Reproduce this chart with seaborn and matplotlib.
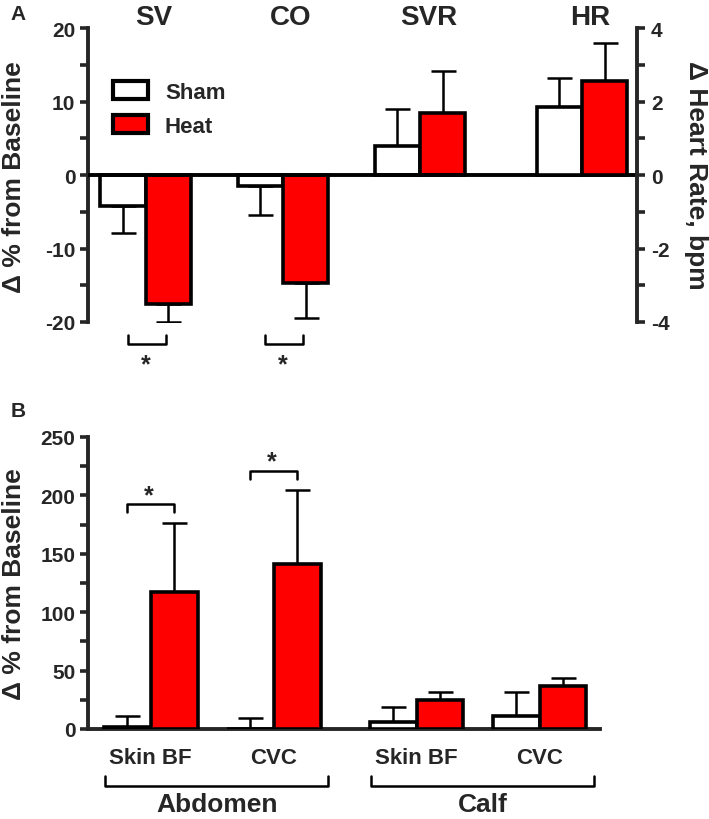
import numpy as np
import pandas as pd
import seaborn as sns
import matplotlib.pyplot as plt
from matplotlib.patches import Patch

# Panel A: % change from baseline (SV, CO, SVR) and heart rate (bpm, right axis)
a_titles = ['SV', 'CO', 'SVR', 'HR']
a_sham = [-4.2, -1.5, 3.9]
a_sham_sd = [3.7, 4.0, 5.1]
a_heat = [-17.5, -14.7, 8.4]
a_heat_sd = [2.5, 4.8, 5.8]
hr_sham = [1.85]
hr_sham_sd = [0.8]
hr_heat = [2.55]
hr_heat_sd = [1.05]

# Panel B: skin blood flow and cutaneous vascular conductance (% change)
b_sites = ['Abdomen', 'Calf']
b_measures = ['Skin BF', 'CVC', 'Skin BF', 'CVC']
b_sham = [2.0, 0.0, 5.7, 11.4]
b_sham_sd = [9.5, 9.5, 13.5, 20.0]
b_heat = [117.0, 141.0, 24.5, 36.5]
b_heat_sd = [59.0, 64.0, 7.0, 7.3]

conditions = ['Sham', 'Heat']
colors = {'Sham': 'white', 'Heat': '#ff0000'}

# layout: group centres along x
a_pos = [0, 1, 2, 3.18]
b_pos = [0, 1, 2.16, 3.16]

sns.set_style('ticks')
plt.rcParams['font.family'] = ['Liberation Sans', 'DejaVu Sans']
plt.rcParams['font.weight'] = 'bold'
plt.rcParams['axes.linewidth'] = 2.8
plt.rcParams['axes.unicode_minus'] = False


def draw_bars(ax, pos, sham, heat, sham_sd, heat_sd, width):
    df = pd.DataFrame({'pos': list(pos) * 2,
                       'cond': ['Sham'] * len(pos) + ['Heat'] * len(pos),
                       'value': list(sham) + list(heat)})
    sns.barplot(data=df, x='pos', y='value', hue='cond', hue_order=conditions,
                palette=colors, saturation=1, native_scale=True, width=width,
                errorbar=None, edgecolor='black', linewidth=2.6, legend=False,
                ax=ax, zorder=3)
    vals = {'Sham': sham, 'Heat': heat}
    sds = {'Sham': sham_sd, 'Heat': heat_sd}
    for cond, cont in zip(conditions, ax.containers):
        for bar in cont:
            xc = bar.get_x() + bar.get_width() / 2
            i = int(np.argmin(np.abs(np.array(pos) - xc)))
            v, sd = vals[cond][i], sds[cond][i]
            yerr = [[sd], [0]] if v < 0 else [[0], [sd]]
            ax.errorbar([xc], [v], yerr=yerr, fmt='none', ecolor='black',
                        elinewidth=1.8, capsize=9, capthick=1.8, zorder=2)


fig = plt.figure(figsize=(7.09, 8.2), dpi=100)

# ---------------- Panel A ----------------
ax = fig.add_axes([0.1241, 0.6061, 0.7743, 0.3585])
ax2 = ax.twinx()
draw_bars(ax, a_pos[:3], a_sham, a_heat, a_sham_sd, a_heat_sd, 0.66)
draw_bars(ax2, a_pos[3:], hr_sham, hr_heat, hr_sham_sd, hr_heat_sd, 0.66)

for a in (ax, ax2):
    a.set_xlim(-0.42, 3.58)
    a.set_xticks([])
    a.set_xlabel('')
    a.set_ylabel('')
    for s in a.spines.values():
        s.set_visible(False)
ax.set_ylim(-20, 20)
ax.spines['left'].set_visible(True)
ax.set_yticks([-20, -10, 0, 10, 20])
ax.set_yticks([-15, -5, 5, 15], minor=True)
ax.tick_params(axis='y', which='both', labelsize=15, length=6, width=2.6, pad=3)
ax2.set_ylim(-4, 4)
ax2.spines['right'].set_visible(True)
ax2.set_yticks([-4, -2, 0, 2, 4])
ax2.set_yticks([-3, -1, 1, 3], minor=True)
ax2.tick_params(axis='y', which='both', labelsize=15, length=6, width=2.6, pad=4)
ax.axhline(0, color='black', lw=2.8, zorder=4)

for p, t in zip(a_pos, a_titles):
    ax.annotate(t, xy=(p + 0.06, 1.0), xycoords=('data', 'axes fraction'),
                xytext=(0, 3), textcoords='offset points', ha='center',
                va='baseline', fontsize=20, fontweight='bold')

# significance brackets under SV and CO
for p in a_pos[:2]:
    ax.plot([p - 0.13, p - 0.13, p + 0.15, p + 0.15], [-21.8, -23, -23, -21.8],
            color='black', lw=1.8, clip_on=False)
    ax.text(p + 0.0, -25.8, '*', ha='center', va='center', fontsize=18)

handles = [Patch(facecolor=colors[c], edgecolor='black', linewidth=3) for c in conditions]
ax.legend(handles, conditions, loc='upper left', bbox_to_anchor=(0.045, 0.82),
          frameon=False, fontsize=16, handlelength=1.6, handleheight=0.9,
          labelspacing=0.55, handletextpad=0.75, borderpad=0, borderaxespad=0)

# ---------------- Panel B ----------------
bx = fig.add_axes([0.1241, 0.1098, 0.7221, 0.3561])
draw_bars(bx, b_pos, b_sham, b_heat, b_sham_sd, b_heat_sd, 0.76)
bx.set_xlim(-0.51, 3.65)
bx.set_ylim(0, 250)
bx.set_yticks(np.arange(0, 251, 50))
bx.set_yticks(np.arange(25, 250, 50), minor=True)
bx.tick_params(axis='y', which='both', labelsize=15, length=6, width=2.6, pad=3)
bx.set_xticks(b_pos)
bx.set_xticklabels(b_measures, fontsize=16, fontweight='bold')
bx.tick_params(axis='x', length=0, pad=13)
bx.set_xlabel('')
bx.set_ylabel('')
bx.spines['top'].set_visible(False)
bx.spines['right'].set_visible(False)

for p, yb, ys in zip(b_pos[:2], [193, 221], [190, 219]):
    bx.plot([p - 0.19, p - 0.19, p + 0.19, p + 0.19], [yb - 7, yb, yb, yb - 7],
            color='black', lw=1.8)
    bx.text(p - 0.02, ys, '*', ha='center', va='bottom', fontsize=18)

# site brackets below the category labels
for k, site in enumerate(b_sites):
    x0, x1 = b_pos[2 * k] - 0.37, b_pos[2 * k + 1] + 0.44
    bx.plot([x0, x0, x1, x1], [-40, -48.8, -48.8, -40], color='black', lw=1.8,
            clip_on=False)
    bx.text((x0 + x1) / 2, -64.5, site, ha='center', va='center', fontsize=19,
            fontweight='bold')

# axis labels and panel letters
fig.text(14 / 709, 1 - 177 / 820, 'Δ % from Baseline', rotation=90, ha='center',
         va='center', fontsize=19, fontweight='bold')
fig.text(14 / 709, 1 - 584 / 820, 'Δ % from Baseline', rotation=90, ha='center',
         va='center', fontsize=19, fontweight='bold')
fig.text(696 / 709, 1 - 175 / 820, 'Δ Heart Rate, bpm', rotation=-90, ha='center',
         va='center', fontsize=19, fontweight='bold')
fig.text(18 / 709, 1 - 15 / 820, 'A', ha='center', va='center', fontsize=15,
         fontweight='bold')
fig.text(18 / 709, 1 - 412 / 820, 'B', ha='center', va='center', fontsize=15,
         fontweight='bold')

fig.savefig('out.png', dpi=100)
